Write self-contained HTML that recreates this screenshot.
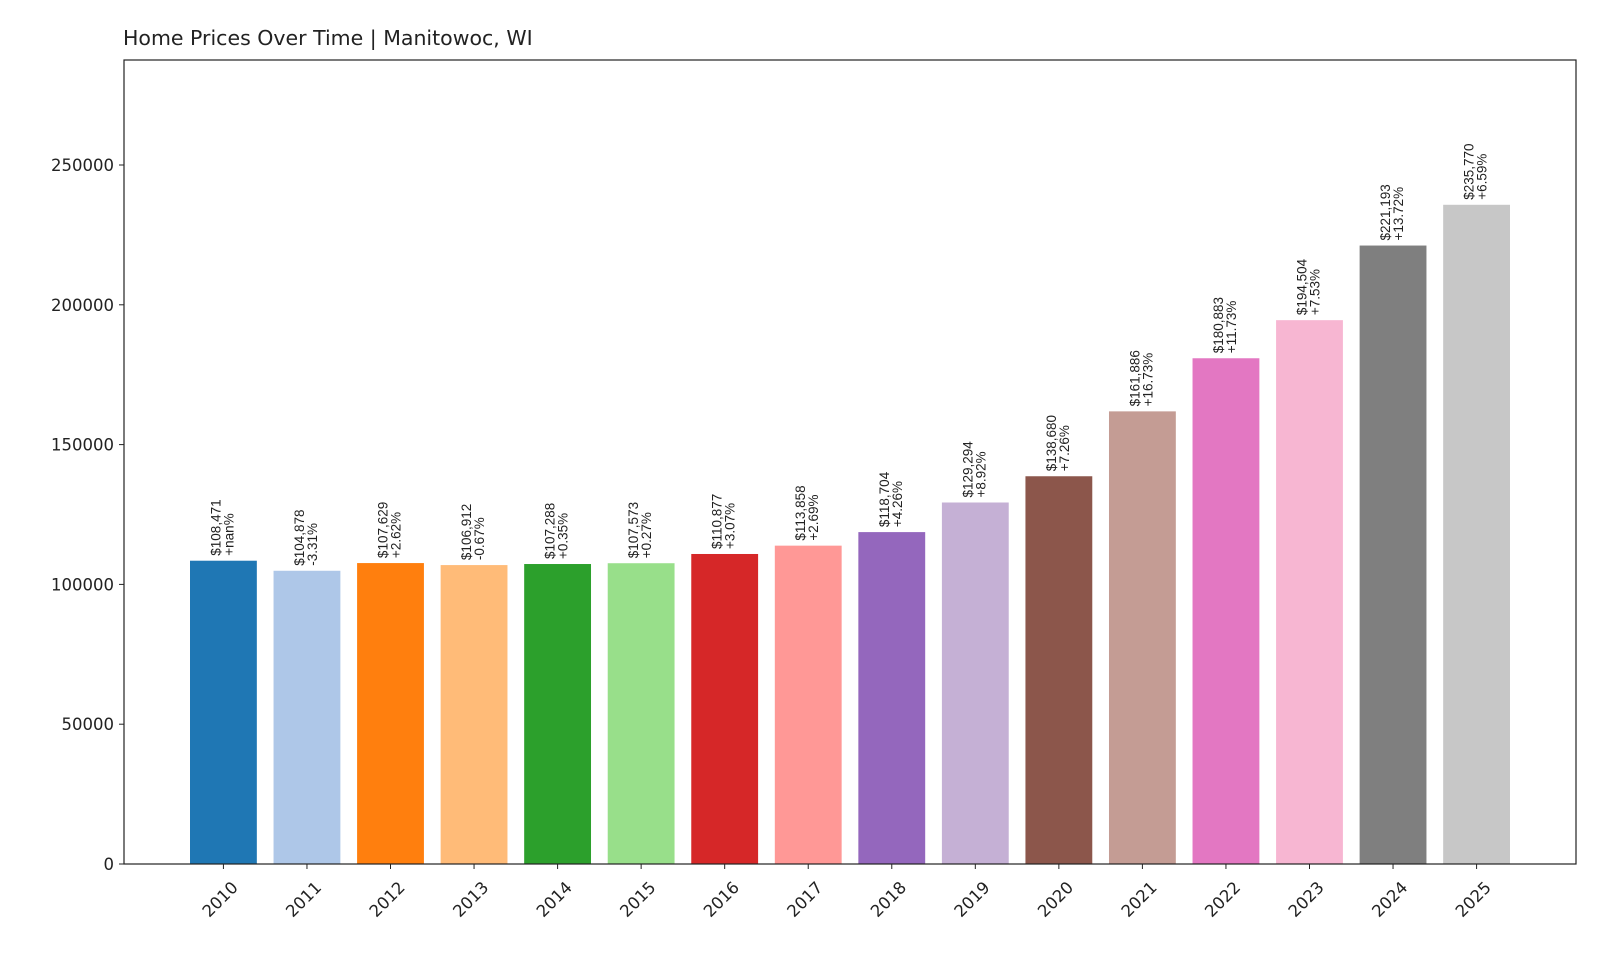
<!DOCTYPE html>
<html><head><meta charset="utf-8"><style>
body{margin:0;background:#fff;}
svg text{font-family:"DejaVu Sans","Liberation Sans",sans-serif;fill:#222;}
svg text.bl{font-family:"Liberation Sans",sans-serif;}
</style></head><body>
<svg id="chart" width="1600" height="960" xmlns="http://www.w3.org/2000/svg">
<text x="123" y="45" font-size="20.5">Home Prices Over Time | Manitowoc, WI</text>
<g id="bars"></g>
<g id="axes"></g>
</svg>
<script>
const years=["2010","2011","2012","2013","2014","2015","2016","2017","2018","2019","2020","2021","2022","2023","2024","2025"];
const prices=[108471,104878,107629,106912,107288,107573,110877,113858,118704,129294,138680,161886,180883,194504,221193,235770];
const changes=["+nan%","-3.31%","+2.62%","-0.67%","+0.35%","+0.27%","+3.07%","+2.69%","+4.26%","+8.92%","+7.26%","+16.73%","+11.73%","+7.53%","+13.72%","+6.59%"];
const yTicks=[0,50000,100000,150000,200000,250000];
const colors=["#1f77b4","#aec7e8","#ff7f0e","#ffbb78","#2ca02c","#98df8a","#d62728","#ff9896","#9467bd","#c5b0d5","#8c564b","#c49c94","#e377c2","#f7b6d2","#7f7f7f","#c7c7c7"];
const L=124,R=1576,T=60,B=864;
const yMax=(B-T)/699*250000;
const xMin=-1.19,xMax=years.length-1+1.19;
const xs=i=>L+(i-xMin)/(xMax-xMin)*(R-L);
const ys=v=>B-v/yMax*(B-T);
const bw=0.8*(R-L)/(xMax-xMin);
const NS="http://www.w3.org/2000/svg";
const bars=document.getElementById('bars'),axes=document.getElementById('axes');
function mk(tag,attrs,parent){const e=document.createElementNS(NS,tag);for(const k in attrs)e.setAttribute(k,attrs[k]);parent.appendChild(e);return e;}
prices.forEach((p,i)=>{
  const x=xs(i);
  const r=mk('rect',{x:x-bw/2,y:ys(p),width:bw,height:B-ys(p),fill:colors[i]},bars);
  
  
  const t=mk('text',{class:'bl',transform:`translate(${x},${ys(p)-5}) rotate(-90)`,'font-size':'13.5'},bars);
  
  
  const a=mk('tspan',{x:0,dy:-3},t);a.textContent='$'+p.toLocaleString('en-US');
  const b=mk('tspan',{x:0,dy:13},t);b.textContent=changes[i];
  mk('line',{x1:x,x2:x,y1:B,y2:B+5,stroke:'#222','stroke-width':1},axes);
  const tl=mk('text',{transform:`translate(${x+7},${B+16}) rotate(-45)`,'font-size':'16.5','text-anchor':'end','dominant-baseline':'hanging'},axes);
  
  
  tl.textContent=years[i];
});
yTicks.forEach(v=>{
  const y=ys(v);
  mk('line',{x1:L-5,x2:L,y1:y,y2:y,stroke:'#222','stroke-width':1},axes);
  const t=mk('text',{x:L-10,y:y+6,'font-size':'16.5','text-anchor':'end'},axes);
  
  
  t.textContent=v;
});
const f=mk('rect',{x:L,y:T,width:R-L,height:B-T,fill:'none',stroke:'#222','stroke-width':1.2},axes);


</script>
</body></html>
